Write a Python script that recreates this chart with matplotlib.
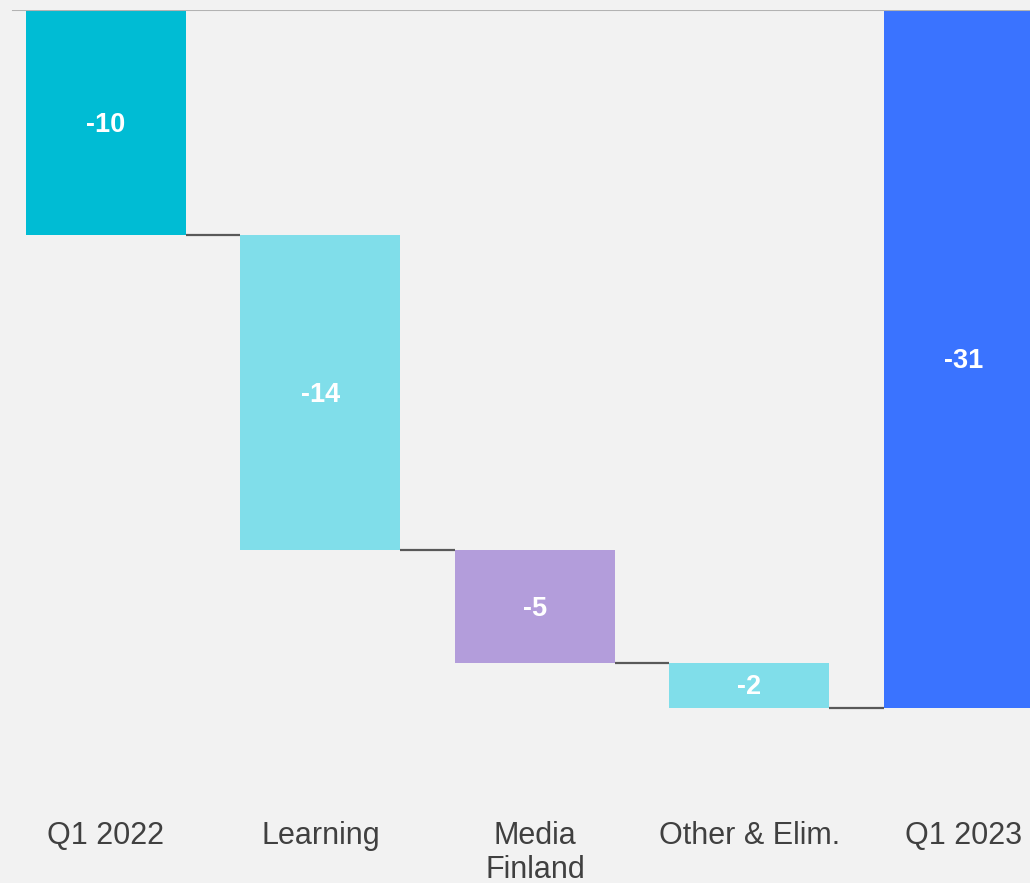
"""Waterfall chart: Q1 2022 -> Q1 2023 bridge."""

import numpy as np
import matplotlib
matplotlib.use("Agg")
import matplotlib.pyplot as plt

categories = ["Q1 2022", "Learning", "Media\nFinland", "Other & Elim.", "Q1 2023"]
values = [-10, -14, -5, -2, -31]
is_total = [True, False, False, False, True]
colors = ["#00bcd4", "#80deea", "#b39ddb", "#80deea", "#3a73ff"]

plt.rcParams['font.family'] = ['Liberation Sans', 'DejaVu Sans']
bg = "#f2f2f2"

fig = plt.figure(figsize=(10.30, 8.83), dpi=100, facecolor=bg)
ax = fig.add_axes([0, 1 - (10 + 35 * 22.5) / 883, 1, 35 * 22.5 / 883])
ax.set_facecolor(bg)

# bar bottoms: totals start at zero, deltas start where the running sum is
bottoms = []
running = 0
for v, tot in zip(values, is_total):
    if tot:
        bottoms.append(0)
        running = v
    else:
        bottoms.append(running)
        running += v
bottoms = np.array(bottoms)
x = np.arange(len(categories))
width = 0.746

ax.bar(x, values, bottom=bottoms, width=width, color=colors,
       edgecolor="none", zorder=2)

# connector lines between bars
ends = bottoms + np.array(values)
for i in range(len(categories) - 1):
    level = ends[i]
    ax.plot([x[i] + width / 2, x[i + 1] - width / 2], [level, level],
            color="#595959", lw=1.6, zorder=1, solid_capstyle="butt")

for xi, b, v in zip(x, bottoms, values):
    ax.text(xi, b + v / 2 - 0.1, f"{v}", ha="center", va="center",
            color="white", fontsize=19.5, fontweight="bold", zorder=3)

ax.axhline(0, xmin=13 / 1030, xmax=1, color="#b3b3b3", lw=1.5, zorder=4)

ax.set_xlim(-0.494, 4.308)
ax.set_ylim(-35, 0)
ax.set_xticks(x)
ax.set_xticklabels(categories, fontsize=22, color="#404040",
                   linespacing=1.15)
ax.tick_params(axis="x", length=0, pad=17)
ax.set_yticks([])
for s in ax.spines.values():
    s.set_visible(False)

plt.savefig("out.png", dpi=100, facecolor=bg)
